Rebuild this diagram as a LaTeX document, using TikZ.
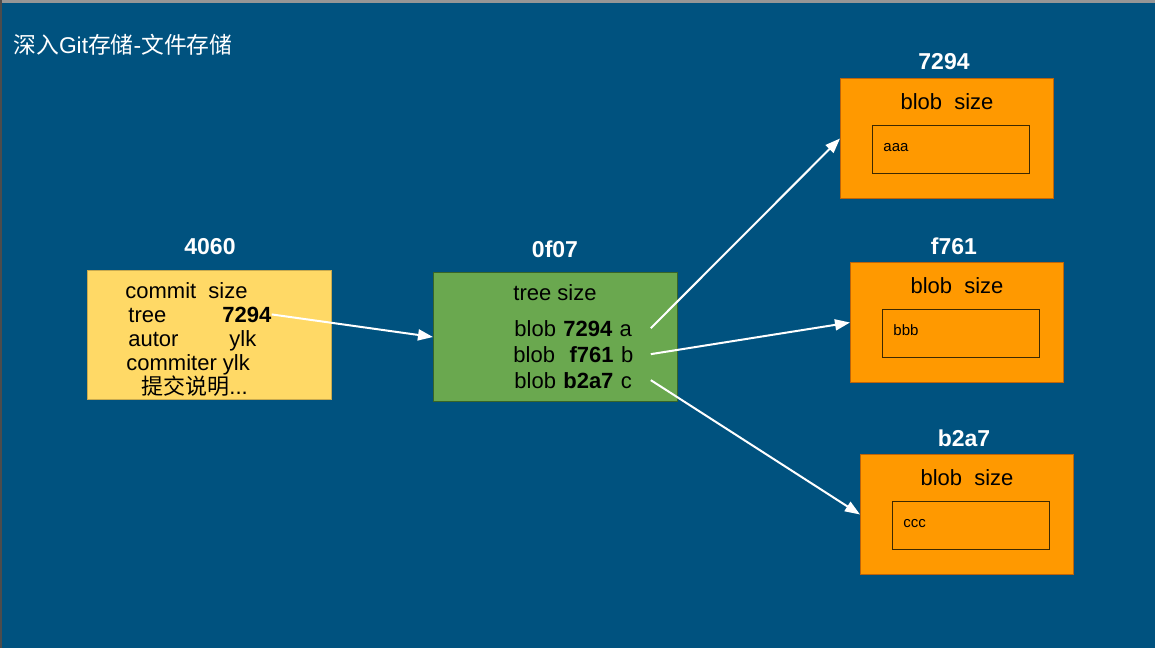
\documentclass[tikz,border=0pt]{standalone}
\usepackage{fontspec}
\setmainfont{Liberation Sans}
\newfontfamily\cjk{Noto Sans CJK SC}
\usetikzlibrary{arrows.meta}

\definecolor{slidebg}{RGB}{0,82,127}
\definecolor{topband}{RGB}{150,150,150}
\definecolor{commitfill}{RGB}{255,217,102}
\definecolor{commitline}{RGB}{200,170,80}
\definecolor{treefill}{RGB}{106,168,79}
\definecolor{treeline}{RGB}{56,100,40}
\definecolor{blobfill}{RGB}{255,153,0}
\definecolor{blobline}{RGB}{190,100,10}
\definecolor{dataline}{RGB}{60,40,0}

\begin{document}
\begin{tikzpicture}[x=0.5pt,y=-0.5pt,
    txt/.style={anchor=base west,inner sep=0pt,font=\fontsize{11}{13}\selectfont},
    small/.style={anchor=base west,inner sep=0pt,font=\fontsize{7.5}{9}\selectfont},
    hash/.style={text=white,inner sep=0pt,font=\fontsize{11.5}{13}\selectfont\bfseries},
    box/.style={anchor=north west,inner sep=0pt,line width=0.5pt},
    blobbox/.style={box,fill=blobfill,draw=blobline,minimum width=106.5pt,minimum height=60pt},
    databox/.style={box,draw=dataline,line width=0.6pt,minimum width=78.5pt,minimum height=24pt},
    ptr/.style={draw=white,line width=1pt,-{Triangle[length=7.5pt,width=5.5pt]}}]

    % slide background
    \useasboundingbox (0,0) rectangle (1155,648);
    \fill[slidebg] (0,0) rectangle (1155,648);
    \fill[topband] (0,0) rectangle (1155,3);
    \fill[black!70] (0,0) rectangle (1.5,648);

    \node[txt,text=white,font=\fontsize{11.4}{13}\selectfont] (title) at (13,53) {{\cjk 深入}Git{\cjk 存储}-{\cjk 文件存储}};

    % commit object
    \node[hash] (hcommit) at (210,247) {4060};
    \node[box,fill=commitfill,draw=commitline,minimum width=122pt,minimum height=64.5pt] (commit) at (87,270) {};
    \node[txt] (c1) at (125,298) {commit\ \ size};
    \node[txt] (c2) at (128,322) {tree};
    \node[txt] (ctree) at (222,322) {\bfseries 7294};
    \node[txt] (c3) at (128,346) {autor};
    \node[txt] (c3b) at (229,346) {ylk};
    \node[txt] (c4) at (126,370) {commiter ylk};
    \node[txt] (c5) at (141,394) {{\cjk 提交说明}...};

    % tree object
    \node[hash] (htree) at (555,249) {0f07};
    \node[box,fill=treefill,draw=treeline,minimum width=122pt,minimum height=64.5pt] (tree) at (433,272) {};
    \node[txt] (t0) at (513,300) {tree size};
    \node[txt,text width=68pt] (tA) at (514,336) {blob \textbf{7294} a};
    \node[txt,text width=68.5pt] (tB) at (513,362) {blob\ \ \textbf{f761} b};
    \node[txt,text width=68pt] (tC) at (514,388) {blob \textbf{b2a7} c};

    % blob objects
    \foreach \n/\dx/\dy/\hsh/\cont in {A/0/0/7294/aaa,B/10/184/f761/bbb,C/20/376/b2a7/ccc} {
        \node[hash] (h\n) at (944+\dx,62+\dy) {\hsh};
        \node[blobbox] (blob\n) at (840+\dx,78+\dy) {};
        \node[txt,anchor=base] (s\n) at (947+\dx,109+\dy) {blob\ \ size};
        \node[databox] (data\n) at (872+\dx,125+\dy) {};
        \node[small] (d\n) at (883+\dx,151+\dy) {\cont};
    }

    % pointers
    \draw[ptr] (ctree.east) -- (tree.west);
    \draw[ptr] (tA.east) -- (blobA.west);
    \draw[ptr] (tB.east) -- (blobB.west);
    \draw[ptr] (tC.east) -- (blobC.west);

\end{tikzpicture}
\end{document}
